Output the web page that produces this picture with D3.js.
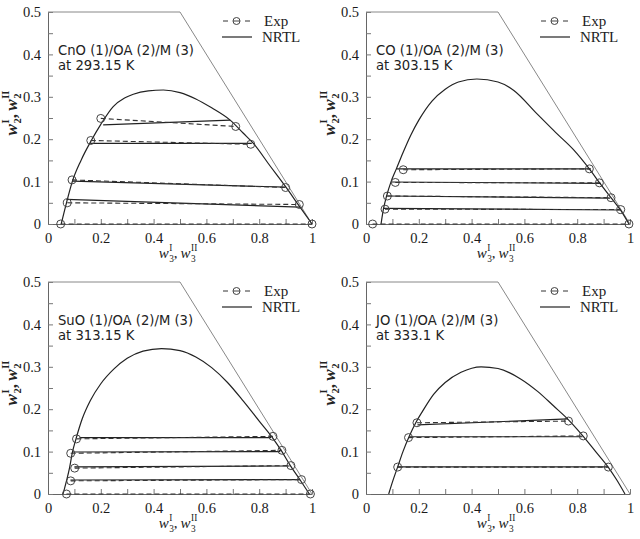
<!DOCTYPE html>
<html>
<head>
<meta charset="utf-8">
<script src="https://cdn.jsdelivr.net/npm/d3@7"></script>
<style>
  body { margin: 0; background: #fff; }
  svg { display: block; }
  .tick text { font-family: "Liberation Serif", serif; font-size: 14.5px; fill: #1a1a1a; }
  .ann { font-family: "DejaVu Sans", sans-serif; font-size: 13.2px; fill: #222; }
  .leg { font-family: "Liberation Serif", serif; font-size: 15px; fill: #222; }
</style>
</head>
<body>
<div id="chart"></div>
<script>
// canvas size
var width = 640,
    height = 539;

// panel titles
var systems = ["CnO (1)/OA (2)/M (3)", "CO (1)/OA (2)/M (3)", "SuO (1)/OA (2)/M (3)", "JO (1)/OA (2)/M (3)"];
var temps = ["at 293.15 K", "at 303.15 K", "at 313.15 K", "at 333.1 K"];

// tick values and labels
var xTicks = [0, 0.1, 0.2, 0.3, 0.4, 0.5, 0.6, 0.7, 0.8, 0.9, 1];
var xLabels = ["0", "", "0.2", "", "0.4", "", "0.6", "", "0.8", "", "1"];
var yTicks = [0, 0.05, 0.1, 0.15, 0.2, 0.25, 0.3, 0.35, 0.4, 0.45, 0.5];
var yLabels = ["0", "", "0.1", "", "0.2", "", "0.3", "", "0.4", "", "0.5"];

// binodal curves (NRTL), [w3, w2]
var curve1 = [[0.05, 0], [0.07, 0.05], [0.092, 0.1], [0.125, 0.15], [0.165, 0.198], [0.2, 0.235], [0.247, 0.277],
  [0.29, 0.297], [0.323, 0.306], [0.38, 0.314], [0.437, 0.316], [0.5, 0.31], [0.56, 0.295], [0.62, 0.274],
  [0.69, 0.245], [0.74, 0.214], [0.778, 0.19], [0.84, 0.138], [0.9, 0.088], [0.952, 0.042], [1, 0]];
var curve2 = [[0.057, 0], [0.066, 0.035], [0.078, 0.066], [0.095, 0.1], [0.115, 0.13], [0.14, 0.168], [0.17, 0.21],
  [0.2, 0.245], [0.25, 0.29], [0.3, 0.318], [0.35, 0.335], [0.42, 0.342], [0.5, 0.335], [0.56, 0.315],
  [0.646, 0.261], [0.72, 0.215], [0.785, 0.176], [0.846, 0.13], [0.885, 0.097], [0.928, 0.062], [0.965, 0.032], [0.996, 0]];
var curve3 = [[0.057, 0], [0.07, 0.031], [0.082, 0.063], [0.092, 0.097], [0.107, 0.132], [0.13, 0.178], [0.16, 0.22],
  [0.2, 0.26], [0.25, 0.295], [0.3, 0.32], [0.36, 0.337], [0.43, 0.343], [0.5, 0.338], [0.56, 0.323],
  [0.62, 0.298], [0.68, 0.263], [0.74, 0.219], [0.8, 0.172], [0.85, 0.133], [0.885, 0.101], [0.918, 0.067],
  [0.955, 0.033], [0.99, 0]];
var curve4 = [[0.086, 0], [0.1, 0.028], [0.12, 0.064], [0.14, 0.1], [0.163, 0.135], [0.19, 0.17], [0.215, 0.196],
  [0.256, 0.235], [0.3, 0.263], [0.36, 0.287], [0.436, 0.3], [0.5, 0.296], [0.584, 0.272], [0.65, 0.242], [0.71, 0.208],
  [0.767, 0.175], [0.823, 0.136], [0.87, 0.1], [0.918, 0.063], [0.95, 0.033], [0.981, 0]];

// NRTL tie lines [[w3 I, w2 I], [w3 II, w2 II]]
var nrtl1 = [[[0.209, 0.234], [0.69, 0.245]], [[0.16, 0.19], [0.772, 0.19]], [[0.093, 0.101], [0.9, 0.087]], [[0.07, 0.058], [0.955, 0.04]]];
var nrtl2 = [[[0.115, 0.13], [0.852, 0.13]], [[0.095, 0.099], [0.89, 0.096]], [[0.078, 0.066], [0.925, 0.061]], [[0.066, 0.037], [0.962, 0.033]]];
var nrtl3 = [[[0.12, 0.133], [0.845, 0.133]], [[0.092, 0.099], [0.88, 0.1]], [[0.1, 0.064], [0.915, 0.066]], [[0.085, 0.033], [0.955, 0.034]]];
var nrtl4 = [[[0.195, 0.163], [0.765, 0.177]], [[0.165, 0.135], [0.82, 0.135]], [[0.12, 0.064], [0.915, 0.064]]];

// experimental tie lines
var exp1 = [[[0.2, 0.249], [0.711, 0.23]], [[0.162, 0.197], [0.768, 0.188]], [[0.091, 0.104], [0.9, 0.086]],
  [[0.073, 0.05], [0.952, 0.046]], [[0.048, 0], [1, 0]]];
var exp2 = [[[0.141, 0.128], [0.846, 0.13]], [[0.111, 0.098], [0.884, 0.097]], [[0.081, 0.066], [0.928, 0.062]],
  [[0.072, 0.035], [0.965, 0.034]], [[0.025, 0], [0.996, 0]]];
var exp3 = [[[0.108, 0.13], [0.852, 0.136]], [[0.086, 0.096], [0.886, 0.103]], [[0.101, 0.061], [0.92, 0.067]],
  [[0.086, 0.031], [0.96, 0.034]], [[0.07, 0], [0.994, 0]]];
var exp4 = [[[0.193, 0.168], [0.767, 0.172]], [[0.161, 0.133], [0.823, 0.137]], [[0.12, 0.0635], [0.918, 0.0635]]];

var curves = [curve1, curve2, curve3, curve4];
var nrtls = [nrtl1, nrtl2, nrtl3, nrtl4];
var exps = [exp1, exp2, exp3, exp4];

// panel placement
var lefts = [48, 366, 48, 366],
    tops = [12, 12, 282, 282],
    pw = 264,
    ph = 212;

var svg = d3.select("#chart").append("svg")
    .attr("width", width)
    .attr("height", height);

// draws w_k^I, w_k^II with stacked sub/superscripts
function wLabel(g, k, size, bold) {
  var t = g.append("text")
      .style("font-family", "'Liberation Serif', serif")
      .style("font-weight", bold ? "bold" : "normal")
      .attr("fill", "#222");
  var x = 0;
  ["I", "II"].forEach(function(sup, i) {
    var w = t.append("tspan").attr("x", x).attr("y", 0)
        .style("font-style", "italic").style("font-size", size + "px").text("w");
    x += w.node().getComputedTextLength() + 0.5;
    var s1 = t.append("tspan").attr("x", x).attr("y", -size * 0.45)
        .style("font-size", (size * 0.62) + "px").text(sup);
    var s2 = t.append("tspan").attr("x", x).attr("y", size * 0.26)
        .style("font-size", (size * 0.62) + "px").text(k);
    x += Math.max(s1.node().getComputedTextLength(), s2.node().getComputedTextLength());
    if (i == 0) {
      var c = t.append("tspan").attr("x", x).attr("y", 0).style("font-size", size + "px").text(",");
      x += c.node().getComputedTextLength() + size * 0.2;
    }
  });
  t.attr("transform", "translate(" + (-x / 2) + ",0)");
}

var binodal = d3.line().curve(d3.curveMonotoneX);

curves.forEach(function(curve, p) {
  var x = d3.scaleLinear().domain([0, 1]).range([0, pw]);
  var y = d3.scaleLinear().domain([0, 0.5]).range([ph, 0]);

  var g = svg.append("g")
      .attr("transform", "translate(" + lefts[p] + "," + tops[p] + ")");

  // axes with inward ticks
  var xa = g.append("g")
      .attr("transform", "translate(0," + ph + ")")
      .call(d3.axisBottom(x).tickValues(xTicks).tickSizeInner(-5).tickSizeOuter(0).tickPadding(9)
        .tickFormat(function(d, i) { return xLabels[i]; }));
  var ya = g.append("g")
      .call(d3.axisLeft(y).tickValues(yTicks).tickSizeInner(-5).tickSizeOuter(0).tickPadding(7)
        .tickFormat(function(d, i) { return yLabels[i]; }));
  [xa, ya].forEach(function(a) {
    a.select(".domain").attr("stroke", "#666");
    a.selectAll(".tick line").attr("stroke", "#777");
  });

  // top edge and the w2 + w3 = 1 boundary
  g.append("path")
      .attr("d", d3.line()([[x(0), y(0.5)], [x(0.5), y(0.5)], [x(1), y(0)]]))
      .attr("fill", "none")
      .attr("stroke", "#888")
      .attr("stroke-width", 1);

  // binodal curve
  g.append("path")
      .attr("d", binodal(curve.map(function(d) { return [x(d[0]), y(d[1])]; })))
      .attr("fill", "none")
      .attr("stroke", "#222")
      .attr("stroke-width", 1.2);

  // NRTL tie lines
  g.selectAll(".nrtl").data(nrtls[p]).enter().append("line")
      .attr("x1", function(d) { return x(d[0][0]); })
      .attr("y1", function(d) { return y(d[0][1]); })
      .attr("x2", function(d) { return x(d[1][0]); })
      .attr("y2", function(d) { return y(d[1][1]); })
      .attr("stroke", "#222")
      .attr("stroke-width", 1.2);

  // experimental tie lines
  g.selectAll(".exp").data(exps[p]).enter().append("line")
      .attr("x1", function(d) { return x(d[0][0]); })
      .attr("y1", function(d) { return y(d[0][1]); })
      .attr("x2", function(d) { return x(d[1][0]); })
      .attr("y2", function(d) { return y(d[1][1]); })
      .attr("stroke", "#333")
      .attr("stroke-width", 1.1)
      .attr("stroke-dasharray", "5,3");

  var pts = [];
  exps[p].forEach(function(d) { pts.push(d[0], d[1]); });
  g.selectAll(".pt").data(pts).enter().append("circle")
      .attr("cx", function(d) { return x(d[0]); })
      .attr("cy", function(d) { return y(d[1]); })
      .attr("r", 4)
      .attr("fill", "none")
      .attr("stroke", "#444")
      .attr("stroke-width", 1);

  // axis titles
  wLabel(g.append("g").attr("transform", "translate(" + (pw / 2 - 2) + "," + (ph + 34) + ")"), "3", 15, false);
  wLabel(g.append("g").attr("transform", "translate(-31.5," + (ph / 2 - 5) + ") rotate(-90)"), "2", 17, true);

  // system annotation, two lines
  var ann = g.append("text").attr("class", "ann");
  ann.append("tspan").attr("x", 10).attr("y", 42.8).text(systems[p]);
  ann.append("tspan").attr("x", 10).attr("y", 58.3).text(temps[p]);

  // legend
  g.append("line").attr("x1", 175).attr("x2", 202).attr("y1", 9).attr("y2", 9)
      .attr("stroke", "#333").attr("stroke-dasharray", "5,17");
  g.append("circle").attr("cx", 188.5).attr("cy", 9).attr("r", 3.5)
      .attr("fill", "#fff").attr("stroke", "#444");
  g.append("line").attr("x1", 185).attr("x2", 192).attr("y1", 9).attr("y2", 9).attr("stroke", "#444");
  g.append("line").attr("x1", 174).attr("x2", 204).attr("y1", 25).attr("y2", 25)
      .attr("stroke", "#222").attr("stroke-width", 1.2);
  g.append("text").attr("class", "leg").attr("x", 216).attr("y", 14).text("Exp");
  g.append("text").attr("class", "leg").attr("x", 214).attr("y", 30).text("NRTL");
});
</script>
</body>
</html>
